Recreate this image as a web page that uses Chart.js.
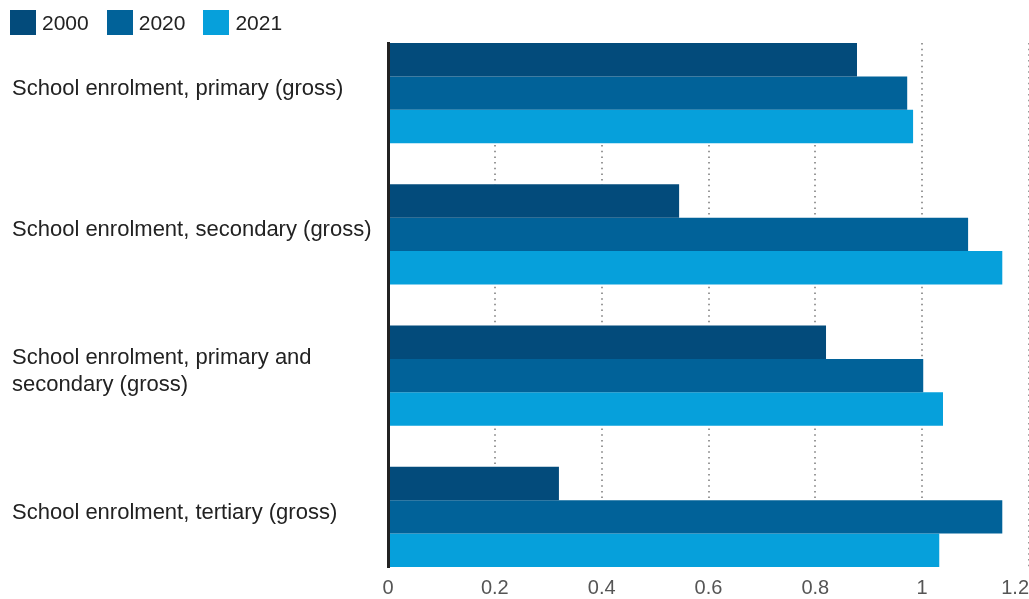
<!DOCTYPE html>
<html>
<head>
<meta charset="utf-8">
<script src="https://cdn.jsdelivr.net/npm/chart.js@4"></script>
<style>
  html, body { margin: 0; padding: 0; background: #fff; }
  #wrap { position: relative; width: 1029px; height: 599px; overflow: hidden; }
  canvas { position: absolute; left: 0; top: 0; }
  #legend { position: absolute; left: 10px; top: 10px; display: flex; align-items: center;
            font: 21px "Liberation Sans", Arial, sans-serif; color: #222; }
  .item { display: flex; align-items: center; margin-right: 18px; }
  .sw { width: 26px; height: 25px; margin-right: 6px; }
</style>
</head>
<body>
<div id="wrap">
  <canvas id="c" width="1029" height="599"></canvas>
  <div id="legend"></div>
</div>
<script>
// ---- Data ----
const categories = [
  ["School enrolment, primary (gross)"],
  ["School enrolment, secondary (gross)"],
  ["School enrolment, primary and", "secondary (gross)"],
  ["School enrolment, tertiary (gross)"]
];
const seriesNames = ["2000", "2020", "2021"];
const values2000 = [0.878, 0.545, 0.820, 0.320];
const values2020 = [0.972, 1.086, 1.002, 1.150];
const values2021 = [0.983, 1.150, 1.039, 1.032];
const xTickMin = 0;
const xTickMax = 1.2;
const xTickStep = 0.2;

// ---- Styles ----
const seriesColors = ["#034b7b", "#016299", "#06a0db"];
const seriesValues = [values2000, values2020, values2021];
const fam = "'Liberation Sans', Arial, sans-serif";

// HTML legend built from series arrays
const legendEl = document.getElementById("legend");
seriesNames.forEach((name, i) => {
  const item = document.createElement("div");
  item.className = "item";
  const sw = document.createElement("div");
  sw.className = "sw";
  sw.style.background = seriesColors[i];
  const tx = document.createElement("span");
  tx.textContent = name;
  item.appendChild(sw);
  item.appendChild(tx);
  legendEl.appendChild(item);
});

const datasets = seriesNames.map((name, i) => ({
  label: name,
  data: seriesValues[i].map((v, j) => ({ x: v, y: j })),
  backgroundColor: seriesColors[i],
  borderWidth: 0,
  categoryPercentage: 0.709,
  barPercentage: 1.0
}));

const yMin = -0.3546, yMax = categories.length - 1 + 0.3546;

new Chart(document.getElementById("c"), {
  type: "bar",
  data: { datasets },
  options: {
    indexAxis: "y",
    responsive: false,
    devicePixelRatio: 1,
    animation: false,
    layout: { padding: { left: 12, top: 43, right: 0, bottom: 0 } },
    plugins: { legend: { display: false }, tooltip: { enabled: false } },
    scales: {
      x: {
        type: "linear",
        position: "bottom",
        min: xTickMin,
        max: xTickMax,
        ticks: {
          stepSize: xTickStep,
          color: "#555",
          font: { family: fam, size: 20 },
          padding: 9,
          callback: (v, i, ticks) => {
            const s = String(Number(v.toFixed(2)));
            return i === ticks.length - 1 ? s + "\u2007\u2007 " : s;
          }
        },
        grid: { color: "#999", lineWidth: 2, borderDash: [1.5, 4.17], drawTicks: false },
        border: { display: false, dash: [1.5, 4.17] },
        afterFit: (s) => { s.height = 32; s.paddingRight = 0; s.paddingLeft = 0; }
      },
      y: {
        type: "linear",
        position: "left",
        reverse: true,
        offset: false,
        bounds: "data",
        grace: 0,
        min: yMin,
        max: yMax,
        afterDataLimits: (s) => { s.min = yMin; s.max = yMax; },
        afterBuildTicks: (s) => { s.ticks = categories.map((c, i) => ({ value: i })); },
        ticks: {
          autoSkip: false,
          callback: (v) => categories[v],
          color: "#222",
          font: { family: fam, size: 22, lineHeight: 1.22 },
          crossAlign: "far",
          padding: 0,
          labelOffset: -4
        },
        grid: { display: false, offset: false },
        border: { display: true, color: "#222", width: 3, z: 1 },
        afterFit: (s) => { s.width = 376; }
      }
    }
  }
});
</script>
</body>
</html>
